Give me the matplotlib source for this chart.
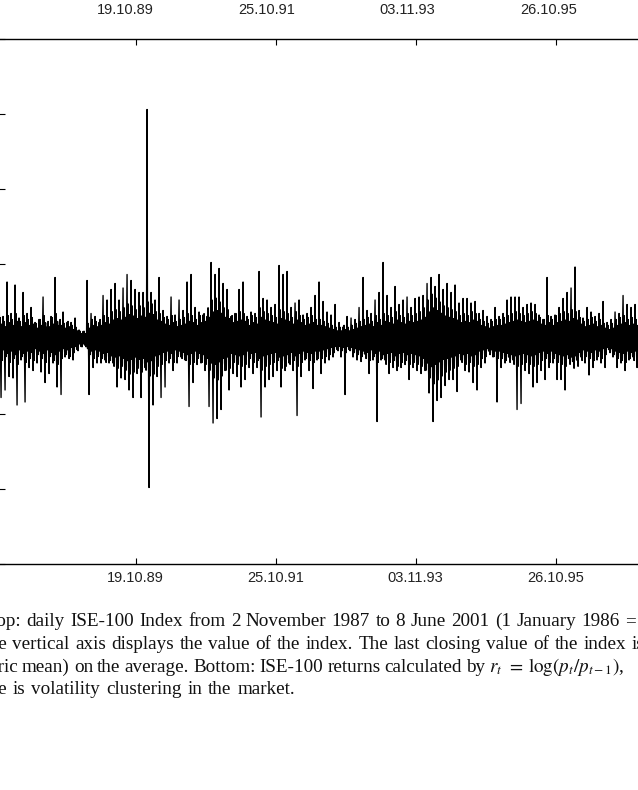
import matplotlib.pyplot as plt
import numpy as np

plt.rcParams['font.family'] = ['Liberation Sans', 'DejaVu Sans']
plt.rcParams['mathtext.fontset'] = 'stix'

# trading-day index of the date ticks (day 0 = 2 Nov 1987)
tick_days = [500, 1000, 1500, 2000]
tick_labels = ["19.10.89", "25.10.91", "03.11.93", "26.10.95"]

# ISE-100 daily log returns (%), read off the picture as the highest and
# lowest value in each block of ~14 trading days
upper = [4.9, 1.5, 3.8, 1.7, 3.6, 1.4, 3.1, 1.7, 2.1, 1.1, 1.3, 2.8, 0.8, 1.5, 4.1, 0.9, 1.8, 1.1, 1.1, 1.4,
         0.6, 0.5, 3.9, 1.7, 1.5, 1.1, 2.9, 2.6, 3.3, 3.7, 2.6, 3.4, 4.3, 3.9, 3.3, 3.1, 3.1, 15.3, 3.1, 2.6,
         4.1, 1.9, 1.5, 2.8, 1.6, 2.6, 1.9, 3.8, 4.3, 2.1, 1.8, 1.6, 1.5, 5.1, 4.3, 4.7, 3.7, 3.3, 1.5, 1.7,
         3.3, 3.8, 1.5, 1.8, 1.7, 4.5, 2.7, 2.6, 2.1, 2.3, 4.9, 4.3, 4.5, 2.1, 2.4, 2.6, 1.6, 1.7, 2.1, 2.9,
         3.8, 2.5, 1.8, 1.6, 2.3, 1.1, 0.8, 1.5, 1.4, 1.3, 2.1, 4.1, 1.9, 1.7, 2.6, 3.1, 5.1, 2.9, 2.1, 3.5,
         2.3, 2.6, 2.8, 2.1, 2.7, 2.8, 2.9, 3.7, 4.1, 3.5, 4.3, 3.3, 3.7, 3.1, 3.6, 2.4, 2.7, 2.7, 2.4, 2.5,
         1.7, 1.9, 1.5, 1.3, 2.1, 1.5, 1.7, 2.6, 2.8, 2.8, 2.8, 2.1, 2.3, 2.4, 2.3, 1.6, 1.3, 4.1, 1.5, 1.6,
         2.1, 2.7, 3.1, 3.4, 4.8, 1.9, 1.4, 2.1, 1.8, 1.5, 1.7, 2.5, 1.1, 1.3, 1.8, 1.7, 2.9, 2.3, 2.1, 2.3]
lower = [-3.9, -3.4, -2.5, -2.6, -4.4, -1.4, -4.2, -1.9, -2.1, -1.6, -2.2, -2.9, -2.3, -1.6, -3.2, -3.7, -1.2, -1.3, -1.4, -0.7,
         -0.5, -0.4, -3.7, -1.9, -1.6, -1.6, -1.4, -1.6, -1.6, -3.2, -2.6, -2.7, -3.4, -3.9, -2.3, -3.9, -1.9, -9.9, -4.4, -2.5,
         -3.9, -3.2, -1.6, -2.1, -1.6, -1.2, -1.4, -4.5, -2.9, -1.7, -1.6, -2.1, -4.5, -5.6, -5.3, -4.7, -2.1, -3.4, -2.3, -2.5,
         -3.2, -2.7, -1.9, -2.3, -1.9, -5.2, -3.2, -2.7, -2.5, -2.1, -3.2, -2.1, -1.6, -2.1, -5.1, -2.5, -1.4, -2.1, -3.3, -1.4,
         -2.3, -1.6, -1.4, -1.2, -0.7, -1.2, -3.7, -0.7, -1.2, -1.4, -1.5, -0.7, -2.3, -1.4, -5.5, -1.4, -1.4, -2.3, -1.9, -2.1,
         -1.9, -1.7, -2.7, -1.9, -2.1, -2.3, -2.1, -3.6, -5.5, -4.1, -3.9, -3.1, -2.7, -2.7, -3.5, -1.4, -2.1, -2.2, -2.9, -3.4,
         -1.9, -1.6, -0.7, -1.2, -4.2, -1.9, -1.6, -1.2, -1.4, -4.7, -4.3, -2.1, -2.3, -3.2, -2.9, -2.1, -2.7, -1.9, -1.6, -2.7,
         -2.7, -3.4, -1.2, -1.2, -1.4, -1.2, -1.6, -2.4, -1.9, -1.4, -1.6, -1.9, -0.7, -1.2, -1.9, -1.6, -2.1, -1.4, -1.2, -1.9]
# half-width (%) of the dense band of ordinary day-to-day swings, same blocks
core = [1.1, 0.9, 1.2, 1.0, 1.3, 0.9, 1.2, 1.0, 1.1, 0.8, 1.0, 1.2, 0.9, 1.1, 1.3, 1.0, 0.8, 0.9, 0.7, 0.6,
        0.4, 0.4, 0.8, 1.0, 0.9, 1.0, 1.2, 1.1, 1.4, 1.5, 1.4, 1.6, 1.8, 1.7, 1.5, 1.7, 1.6, 1.9, 1.8, 1.4,
        1.3, 1.1, 1.0, 1.2, 0.9, 1.0, 1.1, 1.3, 1.2, 1.0, 1.2, 1.3, 1.6, 2.0, 2.1, 1.9, 1.6, 1.5, 1.2, 1.3,
        1.4, 1.3, 1.0, 1.2, 1.1, 1.6, 1.4, 1.3, 1.2, 1.1, 1.5, 1.4, 1.3, 1.1, 1.4, 1.2, 1.0, 1.1, 1.2, 1.0,
        1.0, 0.9, 0.8, 0.7, 0.6, 0.6, 0.7, 0.6, 0.7, 0.8, 0.9, 1.0, 1.1, 0.9, 1.2, 1.0, 1.3, 1.2, 1.1, 1.4,
        1.2, 1.1, 1.3, 1.2, 1.3, 1.4, 1.6, 2.0, 2.3, 2.1, 1.9, 1.7, 1.6, 1.5, 1.4, 1.2, 1.3, 1.2, 1.4, 1.3,
        1.0, 0.9, 0.8, 0.9, 1.0, 1.0, 1.1, 1.2, 1.3, 1.4, 1.3, 1.2, 1.3, 1.4, 1.3, 1.1, 1.0, 1.2, 1.0, 1.2,
        1.3, 1.4, 1.3, 1.5, 1.4, 1.1, 0.9, 1.0, 1.1, 0.9, 1.0, 0.8, 0.7, 0.8, 1.0, 1.1, 1.2, 1.0, 1.1, 1.0]

c = np.array(core)
# eight trading-day samples per block: the extremes plus ordinary swings
returns = np.column_stack([upper, -0.8 * c, 1.3 * c, -c, lower, 0.9 * c, -1.3 * c, 0.6 * c]).ravel()
days = 12 + np.arange(len(returns)) * 500 / 280

W, H = 638, 790
fig = plt.figure(figsize=(W / 100, H / 100), dpi=100)

# lower panel (returns), only part of it is in the picture
x_min, x_max = 10, 3420
px_day = 0.28
ax = fig.add_axes([-1.5 / W, 1 - 564 / H, (x_max - x_min) * px_day / W, 525 / H])
ax.plot(days, returns, color='black', lw=1.0)
ax.set_xlim(x_min, x_max)
ax.set_ylim(-15, 20)
ax.set_xticks(tick_days, tick_labels)
ax.set_yticks(np.arange(-15, 21, 5))
ax.tick_params(direction='in', top=True, length=4.3, width=0.8, labelsize=10.5, pad=5,
               labelcolor='#222222')
ax.tick_params(axis='y', labelleft=False)
for s in ax.spines.values():
    s.set_linewidth(1.0)

# upper panel (index level), only its date labels show at the top
px_up = 141.3 / 500
ax_up = fig.add_axes([(125 - (500 - x_min) * px_up) / W, 1 + 3 / H, (x_max - x_min) * px_up / W, 0.2])
ax_up.set_xlim(x_min, x_max)
ax_up.set_xticks(tick_days, tick_labels)
ax_up.set_yticks([])
ax_up.tick_params(length=0, labelsize=10.5, pad=4.3, labelcolor='#222222')
for s in ax_up.spines.values():
    s.set_visible(False)

# caption (justified lines, cropped at both sides)
renderer = fig.canvas.get_renderer()
serif = ['Liberation Serif', 'DejaVu Serif']


def caption_line(text, baseline, first_end, right, n_fit):
    words = text.split(' ')
    items = [fig.text(0, 0, w, fontsize=13.8, family=serif, va='baseline', color='#111111') for w in words]
    widths = [t.get_window_extent(renderer).width for t in items]
    left = first_end - widths[0]
    gap = (right - left - sum(widths[:n_fit])) / (n_fit - 1)
    x = left
    for t, w in zip(items, widths):
        t.set_position((x / W, 1 - baseline / H))
        x += w + gap


caption_line("Top: daily ISE-100 Index from 2 November 1987 to 8 June 2001 (1 January 1986 = 1).",
             626, 21, 620, 15)
caption_line("The vertical axis displays the value of the index. The last closing value of the index is",
             649, 7, 626, 16)
caption_line(r"(geometric mean) on the average. Bottom: ISE-100 returns calculated by $r_t$ $=$ $\log(p_t/p_{t-1})$,",
             672, 18, 628, 14)
caption_line("There is volatility clustering in the market.", 694, 7, 295, 7)

fig.savefig('out.png', dpi=100)
